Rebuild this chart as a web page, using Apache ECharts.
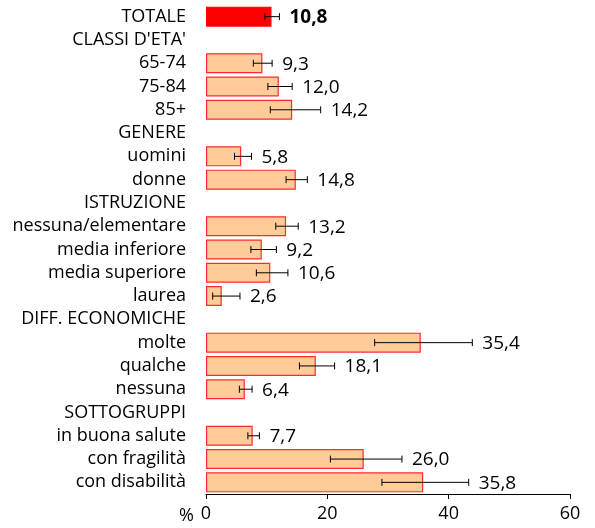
<!DOCTYPE html>
<html>
<head>
<meta charset="utf-8">
<script src="https://cdn.jsdelivr.net/npm/echarts@6/dist/echarts.min.js"></script>
<style>
  html, body { margin: 0; padding: 0; background: #fff; }
  #chart { width: 595px; height: 528px; }
</style>
</head>
<body>
<div id="chart"></div>
<script>
// categories (top to bottom); headers have no value
var categories = ['TOTALE', "CLASSI D'ETA'", '65-74', '75-84', '85+', 'GENERE', 'uomini', 'donne',
    'ISTRUZIONE', 'nessuna/elementare', 'media inferiore', 'media superiore', 'laurea',
    'DIFF. ECONOMICHE', 'molte', 'qualche', 'nessuna', 'SOTTOGRUPPI',
    'in buona salute', 'con fragilità', 'con disabilità'];
var values = [10.8, null, 9.3, 12.0, 14.2, null, 5.8, 14.8, null, 13.2, 9.2, 10.6, 2.6,
    null, 35.4, 18.1, 6.4, null, 7.7, 26.0, 35.8];
var lower = [9.7, null, 7.8, 10.2, 10.6, null, 4.7, 13.2, null, 11.5, 7.4, 8.3, 1.1,
    null, 27.8, 15.4, 5.5, null, 6.9, 20.5, 29.0];
var upper = [12.1, null, 10.9, 14.2, 18.9, null, 7.5, 16.7, null, 15.2, 11.6, 13.5, 5.6,
    null, 43.9, 21.2, 7.6, null, 8.8, 32.3, 43.3];
var xTicks = [0, 20, 40, 60];

var fontFam = '"Open Sans", "Noto Sans", sans-serif';

var barData = [];
var errData = [];
for (var i = 0; i < categories.length; i++) {
    if (values[i] === null) {
        barData.push('-');
        continue;
    }
    var item = { value: values[i] };
    if (i === 0) {
        item.itemStyle = { color: '#ff0000', borderColor: '#ff0000' };
    }
    barData.push(item);
    errData.push([lower[i], upper[i], i, values[i]]);
}

function fmt(v) {
    return v.toFixed(1).replace('.', ',');
}

function renderErr(params, api) {
    var lo = api.coord([api.value(0), api.value(2)]);
    var hi = api.coord([api.value(1), api.value(2)]);
    var v = api.value(3);
    var idx = api.value(2);
    var cap = 3.5;
    var st = { stroke: '#000', lineWidth: 1 };
    return {
        type: 'group',
        children: [
            { type: 'line', shape: { x1: lo[0], y1: lo[1], x2: hi[0], y2: hi[1] }, style: st },
            { type: 'line', shape: { x1: lo[0], y1: lo[1] - cap, x2: lo[0], y2: lo[1] + cap }, style: st },
            { type: 'line', shape: { x1: hi[0], y1: hi[1] - cap, x2: hi[0], y2: hi[1] + cap }, style: st },
            {
                type: 'text',
                x: hi[0] + 10,
                y: hi[1] + 1,
                style: {
                    text: fmt(v),
                    fill: '#000',
                    font: (idx === 0 ? 'bold ' : '') + '19px ' + fontFam,
                    textAlign: 'left',
                    textVerticalAlign: 'middle'
                }
            }
        ]
    };
}

var chart = echarts.init(document.getElementById('chart'));
chart.setOption({
    animation: false,
    backgroundColor: '#fff',
    grid: { left: 206, right: 25, top: 5, bottom: 34 },
    xAxis: {
        type: 'value',
        min: xTicks[0],
        max: xTicks[xTicks.length - 1],
        interval: 20,
        splitLine: { show: false },
        axisLine: { show: true, lineStyle: { color: '#000', width: 1 } },
        axisTick: { show: true, length: 5, lineStyle: { color: '#000' } },
        axisLabel: { color: '#000', fontSize: 18, fontFamily: fontFam, margin: 11 }
    },
    yAxis: {
        type: 'category',
        inverse: true,
        data: categories,
        axisLine: { show: false },
        axisTick: { show: false },
        axisLabel: { color: '#000', fontSize: 18, fontFamily: fontFam, margin: 20, interval: 0 }
    },
    graphic: [{
        type: 'text',
        left: 179,
        top: 507,
        style: { text: '%', fill: '#000', font: '18px ' + fontFam }
    }],
    series: [
        {
            type: 'bar',
            data: barData,
            barWidth: 20,
            itemStyle: { color: '#ffcc99', borderColor: '#ff2a2a', borderWidth: 1.2 }
        },
        {
            type: 'custom',
            renderItem: renderErr,
            data: errData,
            encode: { x: [0, 1], y: 2 },
            clip: false,
            z: 5
        }
    ]
});
</script>
</body>
</html>
